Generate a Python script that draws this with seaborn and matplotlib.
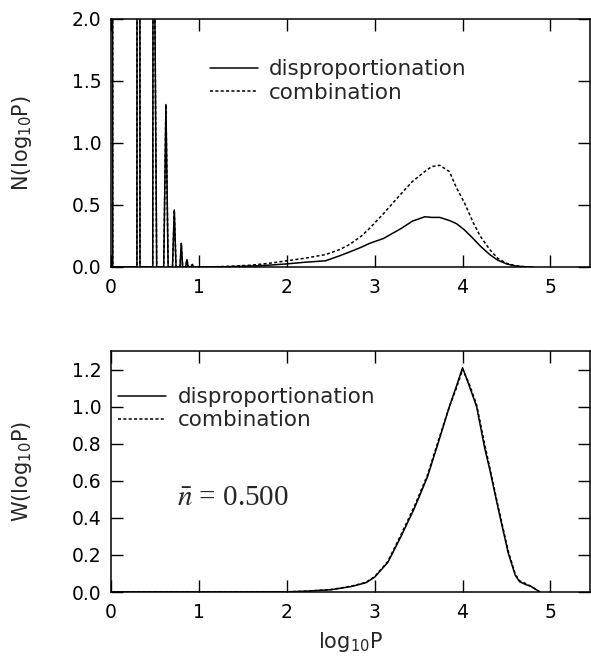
import numpy as np
import pandas as pd
import seaborn as sns
import matplotlib
matplotlib.use("Agg")
import matplotlib.pyplot as plt

# ---------------- data ----------------
series_names = ["disproportionation", "combination"]

# small-P spikes (shared by both series) in the number distribution
spike_x = [0.0, 0.02, 0.295, 0.312, 0.33, 0.475, 0.48, 0.52, 0.60, 0.625, 0.65,
           0.70, 0.72, 0.74, 0.785, 0.80, 0.815, 0.85, 0.864, 0.878, 0.91, 0.925, 0.94]
spike_n = [30.0, 0.0, 0.0, 30.0, 0.0, 0.0, 4.0, 0.0, 0.0, 1.31, 0.0,
           0.0, 0.46, 0.0, 0.0, 0.19, 0.0, 0.0, 0.06, 0.0, 0.0, 0.02, 0.0]

# number distribution N(log10 P)
curve_x = [1.0, 1.3, 1.6, 1.8, 2.0, 2.2, 2.44, 2.6, 2.71, 2.85, 2.94, 3.1, 3.2, 3.3,
           3.43, 3.57, 3.65, 3.74, 3.85, 3.93, 4.02, 4.12, 4.2, 4.31, 4.4, 4.5, 4.6, 4.7, 4.8]
disp_n = [0.0, 0.002, 0.008, 0.015, 0.025, 0.038, 0.05, 0.09, 0.12, 0.16, 0.19, 0.23, 0.27, 0.31,
          0.37, 0.405, 0.40, 0.40, 0.375, 0.35, 0.30, 0.23, 0.17, 0.10, 0.055, 0.025, 0.008, 0.002, 0.0]
comb_n = [0.0, 0.004, 0.015, 0.03, 0.05, 0.07, 0.10, 0.14, 0.18, 0.25, 0.31, 0.43, 0.51, 0.59,
          0.69, 0.77, 0.81, 0.82, 0.77, 0.64, 0.52, 0.36, 0.25, 0.14, 0.07, 0.03, 0.01, 0.003, 0.0]

# weight distribution W(log10 P)
w_x = [0.0, 1.5, 2.0, 2.2, 2.5, 2.74, 2.9, 3.0, 3.15, 3.3, 3.45, 3.6, 3.72, 3.85, 3.93, 4.0,
       4.07, 4.16, 4.25, 4.31, 4.41, 4.52, 4.60, 4.65, 4.72, 4.78, 4.84, 4.88]
disp_w = [0.0, 0.0, 0.001, 0.004, 0.012, 0.03, 0.05, 0.08, 0.16, 0.30, 0.45, 0.62, 0.80, 1.00, 1.11, 1.21,
          1.12, 1.00, 0.78, 0.66, 0.44, 0.21, 0.09, 0.055, 0.04, 0.03, 0.012, 0.0]
comb_w = [0.0, 0.0, 0.001, 0.004, 0.013, 0.032, 0.052, 0.083, 0.165, 0.31, 0.46, 0.63, 0.81, 1.00, 1.10, 1.20,
          1.13, 1.01, 0.80, 0.67, 0.45, 0.22, 0.095, 0.06, 0.045, 0.03, 0.012, 0.0]

top_yticks = [0.0, 0.5, 1.0, 1.5, 2.0]
bot_yticks = [0.0, 0.2, 0.4, 0.6, 0.8, 1.0, 1.2]
xticks = [0, 1, 2, 3, 4, 5]
n_bar_value = 0.500

# ---------------- build frames ----------------
top_df = pd.concat([
    pd.DataFrame({"x": spike_x + curve_x, "y": spike_n + disp_n, "series": series_names[0]}),
    pd.DataFrame({"x": spike_x + curve_x, "y": spike_n + comb_n, "series": series_names[1]}),
], ignore_index=True)
bot_df = pd.concat([
    pd.DataFrame({"x": w_x, "y": disp_w, "series": series_names[0]}),
    pd.DataFrame({"x": w_x, "y": comb_w, "series": series_names[1]}),
], ignore_index=True)

# ---------------- style ----------------
sns.set_style("ticks")
plt.rcParams["font.family"] = ["DejaVu Sans"]
plt.rcParams["mathtext.fontset"] = "dejavusans"
plt.rcParams["axes.linewidth"] = 1.1

TICK_FS = 13.5
LEG_FS = 15.5
LAB_FS = 15

fig = plt.figure(figsize=(5.91, 6.65), dpi=100)
ax1 = fig.add_axes([111 / 591, (665 - 267) / 665, 479 / 591, 248 / 665])
ax2 = fig.add_axes([111 / 591, (665 - 592) / 665, 479 / 591, 241 / 665])

palette = {series_names[0]: "black", series_names[1]: "black"}
dashes = {series_names[0]: "", series_names[1]: (2.0, 1.5)}

for ax, df in [(ax1, top_df), (ax2, bot_df)]:
    sns.lineplot(data=df, x="x", y="y", hue="series", style="series",
                 palette=palette, dashes=dashes, sort=False, estimator=None,
                 linewidth=1.1, ax=ax)
    ax.set_xlim(0, 5.45)
    ax.set_xticks(xticks)
    ax.set_xticklabels([str(t) for t in xticks])
    ax.tick_params(direction="in", length=8.5, width=1.0, top=True, right=True,
                   labelsize=TICK_FS, colors="black")
    ax.tick_params(axis="x", pad=8)
    ax.tick_params(axis="y", pad=7)
    for s in ax.spines.values():
        s.set_color("black")

ax1.set_ylim(0, 2.0)
ax1.set_yticks(top_yticks)
ax1.set_yticklabels([f"{v:.1f}" for v in top_yticks])
ax1.set_xlabel("")
ax1.set_ylabel(r"N(log$_{10}$P)", fontsize=LAB_FS)
ax1.yaxis.set_label_coords(-0.16, 0.5)

ax2.set_ylim(0, 1.3)
ax2.set_yticks(bot_yticks)
ax2.set_yticklabels([f"{v:.1f}" for v in bot_yticks])
ax2.set_ylabel(r"W(log$_{10}$P)", fontsize=LAB_FS)
ax2.yaxis.set_label_coords(-0.16, 0.5)
ax2.set_xlabel(r"log$_{10}$P", fontsize=LAB_FS, labelpad=6)

# legends
for ax, loc in [(ax1, (0.207, 0.75)), (ax2, (0.015, 0.76))]:
    h, l = ax.get_legend_handles_labels()
    ax.legend(h, l, loc="center left", bbox_to_anchor=loc, frameon=False,
              fontsize=LEG_FS, handlelength=2.2, handletextpad=0.55,
              labelspacing=0.15, borderpad=0.0, borderaxespad=0.0)

ax2.text(1.39, 0.47, r"$\bar{n}$ = " + f"{n_bar_value:.3f}", fontsize=21,
         family=["Liberation Serif", "DejaVu Serif"], ha="center", va="baseline",
         math_fontfamily="stix")

fig.savefig("out.png", dpi=100)
